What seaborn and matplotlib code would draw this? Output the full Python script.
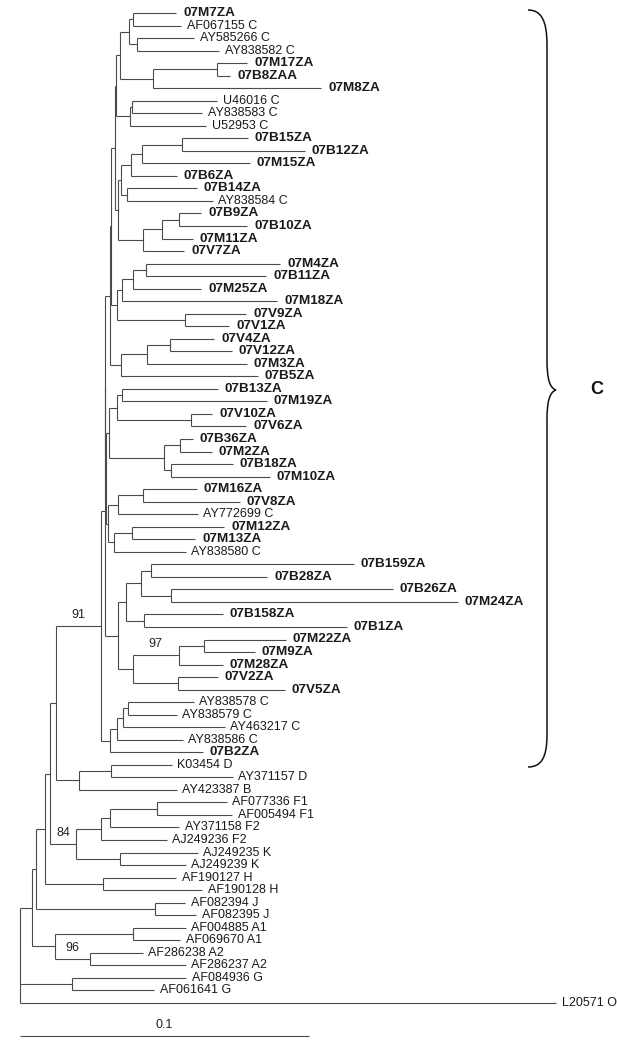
import matplotlib
matplotlib.use("Agg")
import matplotlib.pyplot as plt
from matplotlib.path import Path
from matplotlib.patches import PathPatch
import seaborn as sns

# ---- data: subtrees in Newick form (branch lengths = substitutions/site) ----
grp_c_top = ("(((((07M7ZA:0.0149,AF067155 C:0.0166):0.0016,"
             "(AY585266 C:0.0198,AY838582 C:0.0285):0.0029):0.0029,"
             "((07M17ZA:0.0105,07B8ZAA:0.0046):0.0221,07M8ZA:0.0582):0.0113):0.0014,"
             "((U46016 C:0.0295,AY838583 C:0.0243):0.0005,U52953 C:0.0262):0.0049):0.0003,"
             "(((((07B15ZA:0.0226,07B12ZA:0.0423):0.0141,07M15ZA:0.0374):0.0038,07B6ZA:0.0159):0.0035,"
             "(07B14ZA:0.0242,AY838584 C:0.0298):0.0021):0.0009,"
             "(((07B9ZA:0.0079,07B10ZA:0.0238):0.0057,07M11ZA:0.0105):0.0065,07V7ZA:0.0142):0.0088):0.0009)")
grp_c_mid = ("((((07M4ZA:0.0464,07B11ZA:0.0415):0.0045,07M25ZA:0.0235):0.0039,07M18ZA:0.0537):0.0019,"
             "(07V9ZA:0.0211,07V1ZA:0.0152):0.0238)")
grp_c_v4 = "(((07V4ZA:0.0153,07V12ZA:0.0212):0.0081,07M3ZA:0.0345):0.0089,07B5ZA:0.0472)"

clade_II = ("(((07B13ZA:0.0330,07M19ZA:0.0499):0.0019,(07V10ZA:0.0074,07V6ZA:0.0191):0.0257):0.0027,"
            "((07B36ZA:0.0045,07M2ZA:0.0111):0.0054,(07B18ZA:0.0212,07M10ZA:0.0340):0.0026):0.0190)")
clade_III = ("(((07M16ZA:0.0187,07V8ZA:0.0336):0.0087,AY772699 C:0.0277):0.0033,"
             "((07M12ZA:0.0318,07M13ZA:0.0218):0.0063,AY838580 C:0.0247):0.0021)")
clade_IV = ("((((07B159ZA:0.0699,07B28ZA:0.0401):0.0038,(07B26ZA:0.0768,07M24ZA:0.0993):0.0104):0.0049,"
            "(07B158ZA:0.0271,07B1ZA:0.0700):0.0062):0.0030,"
            "(((07M22ZA:0.0282,07M9ZA:0.0174):0.0089,07M28ZA:0.0152)97:0.0159,"
            "(07V2ZA:0.0138,07V5ZA:0.0370):0.0156):0.0052)")
clade_B2 = ("((((AY838578 C:0.0228,AY838579 C:0.0170):0.0018,AY463217 C:0.0354):0.0019,"
            "AY838586 C:0.0227):0.0023,07B2ZA:0.0319)")

clade_DB = "((K03454 D:0.0209,AY371157 D:0.0420):0.0112,AY423387 B:0.0338)"
clade_FK = ("((((AF077336 F1:0.0242,AF005494 F1:0.0260):0.0163,AY371158 F2:0.0239):0.0029,"
            "AJ249236 F2:0.0226):0.0087,(AJ249235 K:0.0270,AJ249239 K:0.0228):0.0150)")
clade_H = "(AF190127 H:0.0253,AF190128 H:0.0343)"
clade_J = "(AF082394 J:0.0104,AF082395 J:0.0142)"
clade_A = "((AF004885 A1:0.0183,AF069670 A1:0.0163):0.0270,(AF286238 A2:0.0183,AF286237 A2:0.0332)96:0.0121)"
clade_G = "(AF084936 G:0.0396,AF061641 G:0.0285)"
outgroup = "L20571 O:0.1855"

clade_I = f"(({grp_c_top}:0.0015,{grp_c_mid}:0.0019):0.0003,{grp_c_v4}:0.0038)"
clade_C = (f"((({clade_I}:0.0017,({clade_II}:0.0010,{clade_III}:0.0007):0.0003):0.0001,"
           f"{clade_IV}:0.0044):0.0015,{clade_B2}:0.0034)")
tree_str = (f"(((((({clade_C}91:0.0153,{clade_DB}:0.0078):0.0023,{clade_FK}84:0.0092):0.0017,"
            f"{clade_H}:0.0201):0.0031,{clade_J}:0.0412):0.0015,{clade_A}:0.0081):0.0040,"
            f"{clade_G}:0.0179,{outgroup});")

scale_len = 0.1
clade_label = "C"


def parse_newick(s):
    pos = 0

    def read_until(stops):
        nonlocal pos
        start = pos
        while pos < len(s) and s[pos] not in stops:
            pos += 1
        return s[start:pos].strip()

    def node():
        nonlocal pos
        children = []
        if s[pos] == "(":
            pos += 1
            children.append(node())
            while s[pos] == ",":
                pos += 1
                children.append(node())
            pos += 1
        name = read_until(":,();")
        length = 0.0
        if pos < len(s) and s[pos] == ":":
            pos += 1
            length = float(read_until(",();"))
        return {"name": name, "len": length, "children": children}

    return node()


root = parse_newick(tree_str)
leaves = []


def layout(n, x0):
    n["x"] = x0 + n["len"]
    if not n["children"]:
        n["y"] = len(leaves)
        leaves.append(n)
    else:
        for c in n["children"]:
            layout(c, n["x"])
        n["y"] = (n["children"][0]["y"] + n["children"][-1]["y"]) / 2


layout(root, 0.0)

# ---- figure ----
sns.set_theme(style="white")
plt.rcParams["font.family"] = ["Liberation Sans", "DejaVu Sans"]

PX_X = 2890.0   # pixels per substitution unit
PX_Y = 12.53    # pixels per leaf
fig = plt.figure(figsize=(6.17, 10.5), dpi=100)
ax = fig.add_axes([0, 0, 1, 1])
ax.set_xlim(-20 / PX_X, 597 / PX_X)
ax.set_ylim(1037 / PX_Y, -13 / PX_Y)
ax.set_axis_off()

lc = "#4a4a4a"
lw = 0.8


def draw(n, px):
    if px is not None:
        ax.hlines(n["y"], px, n["x"], color=lc, lw=lw)
    if n["children"]:
        ax.vlines(n["x"], n["children"][0]["y"], n["children"][-1]["y"], color=lc, lw=lw)
        for c in n["children"]:
            draw(c, n["x"])
        if n["name"] and px is not None:
            ax.annotate(n["name"], ((px + n["x"]) / 2, n["y"]), xytext=(0, 8),
                        textcoords="offset points", ha="center", va="center",
                        fontsize=9, color="#222222")
    else:
        bold = n["name"].startswith("07")
        ax.annotate(n["name"], (n["x"], n["y"]), xytext=(5 if bold else 4, 0),
                    textcoords="offset points", ha="left", va="center",
                    fontsize=9.7 if bold else 9,
                    fontweight="bold" if bold else "normal", color="#1a1a1a")


draw(root, None)

# scale bar
ybar = (1036 - 13) / PX_Y
ax.hlines(ybar, 0, scale_len, color=lc, lw=lw)
ax.text(scale_len / 2, (1025 - 13) / PX_Y, str(scale_len), ha="center", va="center",
        fontsize=9, color="#222222")


# curly brace for subtype C
def p(x, y):
    return ((x - 20) / PX_X, (y - 13) / PX_Y)


verts = [p(528, 10), p(541, 10), p(547, 20), p(547, 45),
         p(547, 360),
         p(547, 380), p(550, 388), p(556, 390),
         p(550, 392), p(547, 400), p(547, 420),
         p(547, 735),
         p(547, 758), p(541, 767), p(528, 767)]
codes = [Path.MOVETO, Path.CURVE4, Path.CURVE4, Path.CURVE4,
         Path.LINETO,
         Path.CURVE4, Path.CURVE4, Path.CURVE4,
         Path.CURVE4, Path.CURVE4, Path.CURVE4,
         Path.LINETO,
         Path.CURVE4, Path.CURVE4, Path.CURVE4]
ax.add_patch(PathPatch(Path(verts, codes), fill=False, ec="#111111", lw=1.1))
cx, cy = p(597, 390)
ax.text(cx, cy, clade_label, ha="center", va="center", fontsize=13, fontweight="bold",
        color="#111111")

fig.savefig("out.png", dpi=100)
